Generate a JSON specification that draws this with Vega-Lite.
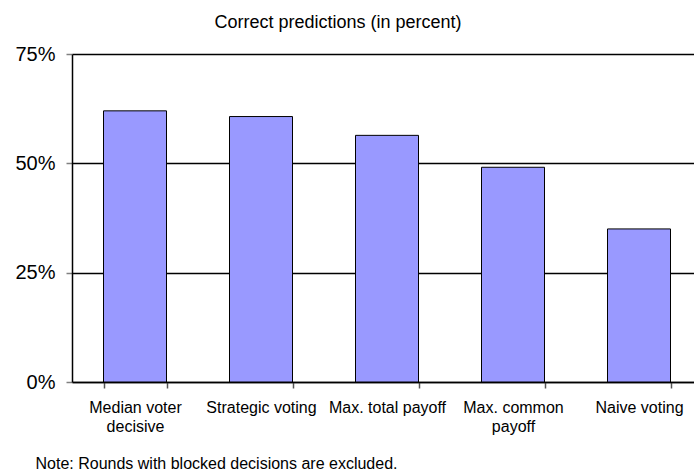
{
  "$schema": "https://vega.github.io/schema/vega-lite/v6.json",
  "width": 622,
  "height": 328,
  "autosize": {"type": "none"},
  "padding": {"left": 72, "top": 54, "right": 0, "bottom": 89},
  "background": "white",
  "config": {
    "view": {"stroke": null},
    "font": "Liberation Sans",
    "text": {"font": "Liberation Sans"}
  },
  "title": {
    "text": "Correct predictions (in percent)",
    "font": "Liberation Sans",
    "fontSize": 18,
    "fontWeight": "normal",
    "color": "black",
    "anchor": "middle",
    "frame": "group",
    "dx": -45,
    "dy": 2,
    "baseline": "alphabetic",
    "offset": 0
  },
  "data": {
    "values": [
      {"method": "Median voter decisive", "pct": 0.62},
      {"method": "Strategic voting", "pct": 0.607},
      {"method": "Max. total payoff", "pct": 0.564},
      {"method": "Max. common payoff", "pct": 0.491},
      {"method": "Naive voting", "pct": 0.35}
    ]
  },
  "mark": {"type": "bar", "fill": "#9999FF", "stroke": "black", "strokeWidth": 1},
  "encoding": {
    "x": {
      "field": "method",
      "type": "nominal",
      "sort": null,
      "scale": {"range": [0, 630], "paddingInner": 0.5, "paddingOuter": 0.25},
      "axis": {
        "title": "Note: Rounds with blocked decisions are excluded.",
        "titleFont": "Liberation Sans",
        "titleFontSize": 16,
        "titleFontWeight": "normal",
        "titleColor": "black",
        "titleAnchor": null,
        "titleAlign": "left",
        "titleBaseline": "alphabetic",
        "titleX": -37,
        "titleY": 86,
        "labelAngle": 0,
        "labelFont": "Liberation Sans",
        "labelFontSize": 16,
        "labelColor": "black",
        "labelBaseline": "alphabetic",
        "labelPadding": 24,
        "labelLineHeight": 19,
        "labelOverlap": false,
        "labelLimit": 0,
        "labelExpr": "datum.label == 'Median voter decisive' ? ['Median voter', 'decisive'] : datum.label == 'Max. common payoff' ? ['Max. common', 'payoff'] : datum.label",
        "tickBand": "extent",
        "tickSize": 6,
        "tickColor": "#555555",
        "tickWidth": 1.5,
        "domainColor": "black",
        "domainWidth": 1.5,
        "grid": false
      }
    },
    "y": {
      "field": "pct",
      "type": "quantitative",
      "scale": {"domain": [0, 0.75], "nice": false},
      "axis": {
        "title": null,
        "values": [0, 0.25, 0.5, 0.75],
        "format": ".0%",
        "labelFont": "Liberation Sans",
        "labelFontSize": 20,
        "labelColor": "black",
        "labelPadding": 11,
        "tickSize": 6,
        "tickColor": "#808080",
        "tickWidth": 1.5,
        "domainColor": "black",
        "domainWidth": 1.5,
        "grid": true,
        "gridColor": "black",
        "gridWidth": 1.5,
        "gridOpacity": 1
      }
    }
  }
}
